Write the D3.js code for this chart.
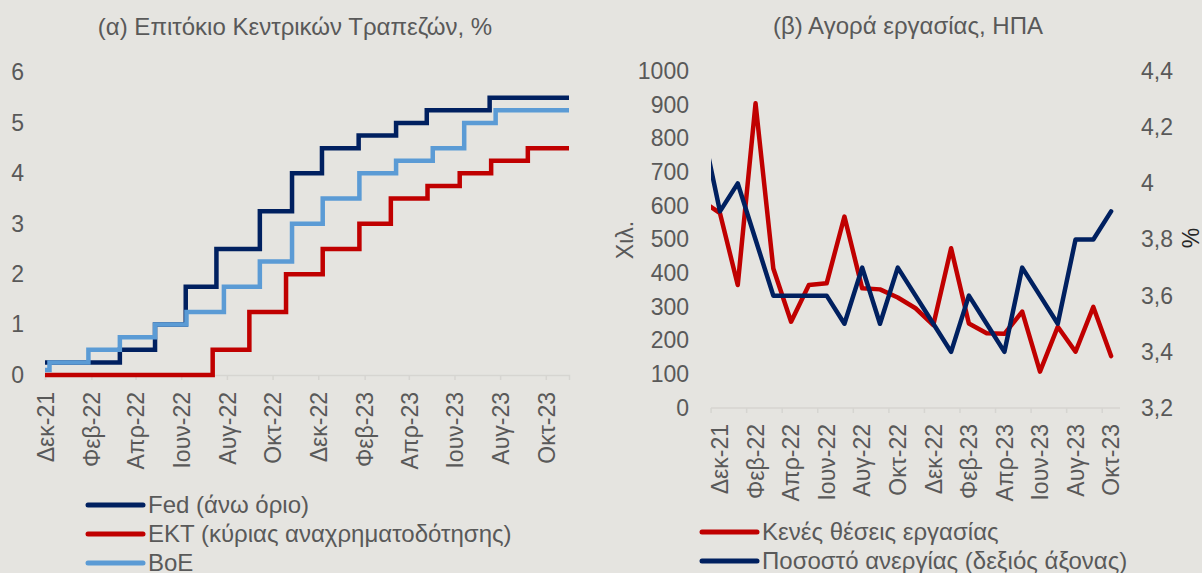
<!DOCTYPE html>
<html>
<head>
<meta charset="utf-8">
<script src="https://cdn.jsdelivr.net/npm/d3@7"></script>
<style>
	html, body { margin: 0; padding: 0; background: #e5e4e0; }
	svg { display: block; font-family: "Liberation Sans", Arial, sans-serif; }
	.tick text { fill: #595959; }
</style>
</head>
<body>
<div id="chart"></div>
<script>
/*globals d3 */
// Two panels: central bank rates (steps) and US labour market
(function() {
	"use strict";

	var fedDates = ["2021-12-01", "2022-03-11", "2022-04-27", "2022-06-07", "2022-07-18", "2022-09-14",
		"2022-10-27", "2022-12-06", "2023-01-24", "2023-03-15", "2023-04-25", "2023-07-18", "2023-11-01"];
	var fedRates = [0.25, 0.5, 1.0, 1.75, 2.5, 3.25, 4.0, 4.5, 4.75, 5.0, 5.25, 5.5, 5.5];

	var ecbDates = ["2021-12-01", "2022-07-13", "2022-08-31", "2022-10-19", "2022-12-07", "2023-01-25",
		"2023-03-08", "2023-04-26", "2023-06-08", "2023-07-20", "2023-09-07", "2023-11-01"];
	var ecbRates = [0, 0.5, 1.25, 2.0, 2.5, 3.0, 3.5, 3.75, 4.0, 4.25, 4.5, 4.5];

	var boeDates = ["2021-12-01", "2021-12-07", "2022-01-28", "2022-03-11", "2022-04-27", "2022-06-08",
		"2022-07-28", "2022-09-14", "2022-10-27", "2022-12-07", "2023-01-25", "2023-03-15", "2023-05-03",
		"2023-06-14", "2023-07-26", "2023-11-01"];
	var boeRates = [0.1, 0.25, 0.5, 0.75, 1.0, 1.25, 1.75, 2.25, 3.0, 3.5, 4.0, 4.25, 4.5, 5.0, 5.25, 5.25];

	var rateTickDates = ["2021-12-01", "2022-02-01", "2022-04-01", "2022-06-01", "2022-08-01", "2022-10-01",
		"2022-12-01", "2023-02-01", "2023-04-01", "2023-06-01", "2023-08-01", "2023-10-01"];
	var tickLabels = ["Δεκ-21", "Φεβ-22", "Απρ-22", "Ιουν-22", "Αυγ-22", "Οκτ-22",
		"Δεκ-22", "Φεβ-23", "Απρ-23", "Ιουν-23", "Αυγ-23", "Οκτ-23"];
	var rateTicks = [0, 1, 2, 3, 4, 5, 6];

	// (β) monthly, Nov-21 is outside the axis and gets clipped
	var months = ["Νοε-21", "Δεκ-21", "Ιαν-22", "Φεβ-22", "Μαρ-22", "Απρ-22", "Μαϊ-22", "Ιουν-22", "Ιουλ-22",
		"Αυγ-22", "Σεπ-22", "Οκτ-22", "Νοε-22", "Δεκ-22", "Ιαν-23", "Φεβ-23", "Μαρ-23", "Απρ-23", "Μαϊ-23",
		"Ιουν-23", "Ιουλ-23", "Αυγ-23", "Σεπ-23", "Οκτ-23"];
	var vacancies = [615, 578, 365, 904, 414, 256, 365, 370, 568, 355, 352, 328, 296, 246, 474, 251,
		222, 220, 286, 108, 241, 167, 300, 154];
	var unemployment = [4.2, 3.9, 4.0, 3.8, 3.6, 3.6, 3.6, 3.6, 3.5, 3.7, 3.5, 3.7, 3.6, 3.5, 3.4, 3.6,
		3.5, 3.4, 3.7, 3.6, 3.5, 3.8, 3.8, 3.9];
	var leftTicks = [0, 100, 200, 300, 400, 500, 600, 700, 800, 900, 1000];
	var rightTicks = [3.2, 3.4, 3.6, 3.8, 4.0, 4.2, 4.4];

	var NAVY = "#002060", RED = "#c00000", LIGHT = "#5b9bd5", GREY = "#595959", AXIS = "#d6d5d1";
	var W = 1202, H = 573;
	var TICK_FONT = "23px", TITLE_FONT = "24px";
	var parse = d3.timeParse("%Y-%m-%d");

	var svg = d3.select("#chart").append("svg")
		.attr("width", W)
		.attr("height", H);
	svg.append("rect")
		.attr("width", W)
		.attr("height", H)
		.attr("fill", "#e5e4e0");

	function pairs(dates, vals) {
		return dates.map(function(d, i) { return { date: parse(d), v: vals[i] }; });
	}

	function legend(g, items) {
		items.forEach(function(it, i) {
			g.append("line")
				.attr("x1", 0).attr("x2", 55)
				.attr("y1", i * 29).attr("y2", i * 29)
				.attr("stroke", it.color)
				.attr("stroke-width", 5)
				.attr("stroke-linecap", "round");
			g.append("text")
				.attr("x", 60)
				.attr("y", i * 29)
				.attr("dy", "0.35em")
				.attr("fill", GREY)
				.style("font-size", TITLE_FONT)
				.text(it.name);
		});
	}

	function drawRates() {
		var g = svg.append("g");
		var x = d3.scaleTime()
			.domain([parse("2021-12-01"), parse("2023-11-01")])
			.range([45, 569]);
		var y = d3.scaleLinear().domain([0, 6]).range([375, 72.5]);

		g.append("text")
			.attr("x", 295).attr("y", 35)
			.attr("text-anchor", "middle")
			.attr("fill", GREY)
			.style("font-size", TITLE_FONT)
			.text("(α) Επιτόκιο Κεντρικών Τραπεζών, %");

		var ya = g.append("g")
			.attr("transform", "translate(24,0)")
			.call(d3.axisLeft(y).tickValues(rateTicks).tickSize(0).tickPadding(0).tickFormat(d3.format("d")));
		ya.select(".domain").remove();
		ya.selectAll("text").style("font-size", TICK_FONT);

		var xa = g.append("g")
			.attr("transform", "translate(0,375)")
			.call(d3.axisBottom(x)
				.tickValues(rateTickDates.map(parse))
				.tickFormat(function(d, i) { return tickLabels[i]; })
				.tickSizeOuter(0)
				.tickSize(5));
		xa.select(".domain").attr("stroke", AXIS).attr("stroke-width", 1.5);
		xa.selectAll(".tick line").attr("stroke", AXIS).attr("stroke-width", 1.5);
		xa.selectAll(".tick text")
			.style("font-size", TICK_FONT)
			.attr("text-anchor", "end")
			.attr("transform", "rotate(-90)")
			.attr("x", -17)
			.attr("y", 0)
			.attr("dy", "0.36em");

		var line = d3.line()
			.x(function(d) { return x(d.date); })
			.y(function(d) { return y(d.v); })
			.curve(d3.curveStepAfter);

		[
			{ data: pairs(fedDates, fedRates), color: NAVY },
			{ data: pairs(ecbDates, ecbRates), color: RED },
			{ data: pairs(boeDates, boeRates), color: LIGHT }
		].forEach(function(s) {
			g.append("path")
				.attr("d", line(s.data))
				.attr("fill", "none")
				.attr("stroke", s.color)
				.attr("stroke-width", 4.5);
		});

		legend(g.append("g").attr("transform", "translate(88,505)"), [
			{ name: "Fed (άνω όριο)", color: NAVY },
			{ name: "ΕΚΤ (κύριας αναχρηματοδότησης)", color: RED },
			{ name: "BoE", color: LIGHT }
		]);
	}

	function drawLabour() {
		var g = svg.append("g");
		var x = d3.scalePoint().domain(months).range([702.2, 1111.1]);
		var step = x.step();
		var left = 711, right = 1120;
		var yL = d3.scaleLinear().domain([0, 1000]).range([408, 71]);
		var yR = d3.scaleLinear().domain([3.2, 4.4]).range([408, 71]);

		g.append("text")
			.attr("x", 908).attr("y", 34)
			.attr("text-anchor", "middle")
			.attr("fill", GREY)
			.style("font-size", TITLE_FONT)
			.text("(β) Αγορά εργασίας, ΗΠΑ");

		var la = g.append("g")
			.attr("transform", "translate(689,0)")
			.call(d3.axisLeft(yL).tickValues(leftTicks).tickSize(0).tickPadding(0).tickFormat(d3.format("d")));
		la.select(".domain").remove();
		la.selectAll("text").style("font-size", TICK_FONT);

		var ra = g.append("g")
			.attr("transform", "translate(1141,0)")
			.call(d3.axisRight(yR).tickValues(rightTicks).tickSize(0).tickPadding(0)
				.tickFormat(function(d) { return String(d).replace(".", ","); }));
		ra.select(".domain").remove();
		ra.selectAll("text").style("font-size", TICK_FONT);

		g.append("text")
			.attr("transform", "translate(633,240) rotate(-90)")
			.attr("text-anchor", "middle")
			.attr("fill", GREY)
			.style("font-size", TICK_FONT)
			.text("Χιλ.");
		g.append("text")
			.attr("transform", "translate(1199,238) rotate(-90)")
			.attr("text-anchor", "middle")
			.attr("fill", "#262626")
			.style("font-size", TICK_FONT)
			.text("%");

		// category axis: ticks between every second month, labels on the months
		var shown = months.filter(function(m, i) { return i % 2 === 1; });
		var xa = g.append("g").attr("transform", "translate(0,408)");
		xa.append("line")
			.attr("x1", left).attr("x2", right)
			.attr("stroke", AXIS).attr("stroke-width", 1.5);
		xa.selectAll("line.tk").data(shown).enter().append("line")
			.attr("class", "tk")
			.attr("x1", function(m) { return x(m) - step / 2; })
			.attr("x2", function(m) { return x(m) - step / 2; })
			.attr("y2", 5)
			.attr("stroke", AXIS).attr("stroke-width", 1.5);
		xa.selectAll("text").data(shown).enter().append("text")
			.attr("transform", function(m) { return "translate(" + x(m) + ",16) rotate(-90)"; })
			.attr("text-anchor", "end")
			.attr("dy", "0.36em")
			.attr("fill", GREY)
			.style("font-size", TICK_FONT)
			.text(function(m) { return m; });

		svg.append("clipPath").attr("id", "plotclip")
			.append("rect")
			.attr("x", left).attr("y", 0)
			.attr("width", right - left).attr("height", H);

		var plot = g.append("g").attr("clip-path", "url(#plotclip)");
		var vacLine = d3.line()
			.x(function(d, i) { return x(months[i]); })
			.y(function(d) { return yL(d); });
		var uneLine = d3.line()
			.x(function(d, i) { return x(months[i]); })
			.y(function(d) { return yR(d); });
		plot.append("path")
			.attr("d", vacLine(vacancies))
			.attr("fill", "none")
			.attr("stroke", RED)
			.attr("stroke-width", 4.5)
			.attr("stroke-linejoin", "round")
			.attr("stroke-linecap", "round");
		plot.append("path")
			.attr("d", uneLine(unemployment))
			.attr("fill", "none")
			.attr("stroke", NAVY)
			.attr("stroke-width", 4.5)
			.attr("stroke-linejoin", "round")
			.attr("stroke-linecap", "round");

		legend(g.append("g").attr("transform", "translate(702,532)"), [
			{ name: "Κενές θέσεις εργασίας", color: RED },
			{ name: "Ποσοστό ανεργίας (δεξιός άξονας)", color: NAVY }
		]);
	}

	drawRates();
	drawLabour();
}());
</script>
</body>
</html>
